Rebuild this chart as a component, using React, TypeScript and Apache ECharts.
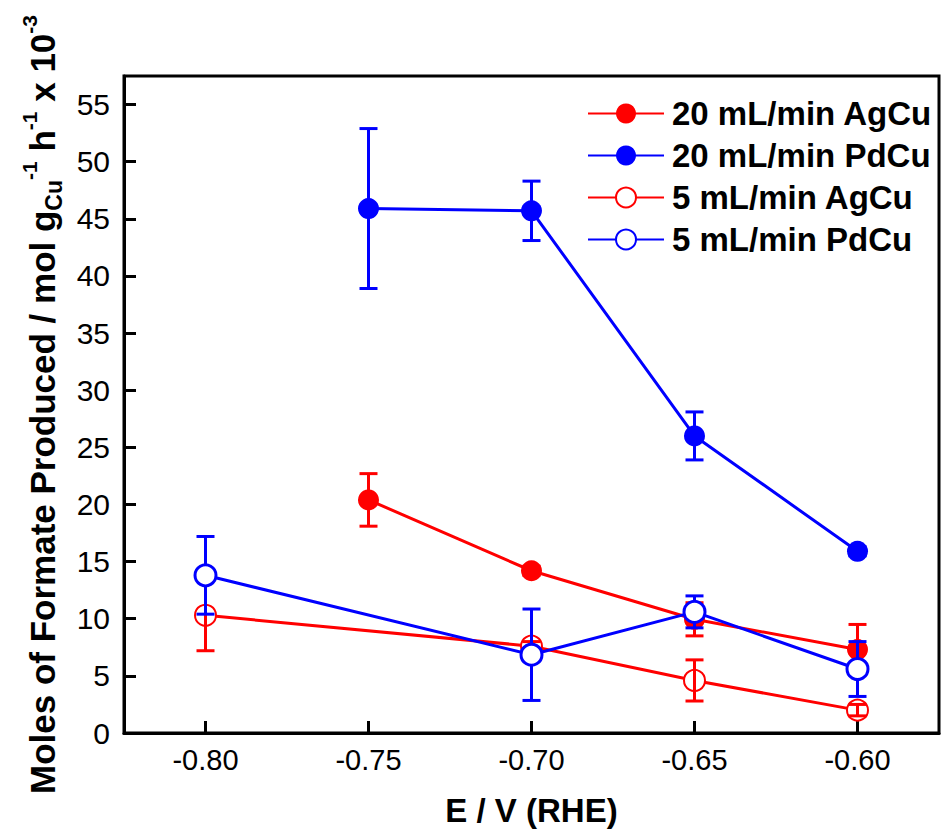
import React, { useEffect, useRef } from "react";
import * as echarts from "echarts";

const xTicks = [-0.8, -0.75, -0.7, -0.65, -0.6];

const agcu20X = [-0.75, -0.7, -0.65, -0.6];
const agcu20Y = [20.4, 14.2, 9.95, 7.3];
const agcu20Err = [2.3, 0.4, 1.45, 2.2];

const pdcu20X = [-0.75, -0.7, -0.65, -0.6];
const pdcu20Y = [45.9, 45.7, 26.0, 15.9];
const pdcu20Err = [7.0, 2.6, 2.1, 0.4];

const agcu5X = [-0.8, -0.7, -0.65, -0.6];
const agcu5Y = [10.3, 7.6, 4.6, 2.0];
const agcu5Err = [3.1, 0.4, 1.8, 0.5];

const pdcu5X = [-0.8, -0.7, -0.65, -0.6];
const pdcu5Y = [13.8, 6.85, 10.6, 5.6];
const pdcu5Err = [3.4, 4.0, 1.4, 2.4];

const names = [
  "20 mL/min AgCu",
  "20 mL/min PdCu",
  "5 mL/min AgCu",
  "5 mL/min PdCu",
];

const RED = "#ff0000";
const BLUE = "#0000ff";
const FONT = "Liberation Sans, Arial, Helvetica, sans-serif";

function pairs(xs: number[], ys: number[]) {
  return xs.map((x, i) => [x, ys[i]]);
}
function errData(xs: number[], ys: number[], es: number[]) {
  return xs.map((x, i) => [x, ys[i], ys[i] - es[i], ys[i] + es[i]]);
}

function errSeries(name: string, xs: number[], ys: number[], es: number[], color: string, z: number) {
  return {
    type: "custom",
    name: name + " err",
    z,
    silent: true,
    encode: { x: 0, y: 1 },
    data: errData(xs, ys, es),
    renderItem: (params: any, api: any) => {
      const x = api.value(0);
      const lo = api.value(2);
      const hi = api.value(3);
      const p1 = api.coord([x, lo]);
      const p2 = api.coord([x, hi]);
      const w = 9;
      const st = { stroke: color, lineWidth: 3 };
      return {
        type: "group",
        children: [
          { type: "line", shape: { x1: p1[0], y1: p1[1], x2: p2[0], y2: p2[1] }, style: st },
          { type: "line", shape: { x1: p1[0] - w, y1: p1[1], x2: p1[0] + w, y2: p1[1] }, style: st },
          { type: "line", shape: { x1: p2[0] - w, y1: p2[1], x2: p2[0] + w, y2: p2[1] }, style: st },
        ],
      };
    },
  };
}

function lineSeries(name: string, xs: number[], ys: number[], color: string, filled: boolean, borderW: number, z: number) {
  return {
    type: "line",
    name,
    z,
    data: pairs(xs, ys),
    symbol: "circle",
    symbolSize: 21,
    lineStyle: { color, width: 3 },
    itemStyle: filled
      ? { color, borderColor: color, borderWidth: 0 }
      : { color: "#ffffff", borderColor: color, borderWidth: borderW },
    emphasis: { disabled: true },
  };
}

export default function App() {
  const ref = useRef<HTMLDivElement>(null);

  useEffect(() => {
    document.body.style.margin = "0";
    if (!ref.current) return;
    const chart = echarts.init(ref.current, undefined, { renderer: "svg" });
    const yName =
      "{t|Moles of Formate Produced / mol g}{sub|Cu}{sup|-1}{t| h}{sup|-1}{t| x 10}{sup|-3}";
    chart.setOption({
      animation: false,
      backgroundColor: "#ffffff",
      textStyle: { fontFamily: FONT },
      grid: {
        left: 124,
        right: 3,
        top: 76,
        bottom: 103,
        show: true,
        borderColor: "#000",
        borderWidth: 3,
        backgroundColor: "transparent",
      },
      legend: {
        data: names,
        orient: "vertical",
        left: 587,
        top: 97,
        itemWidth: 76,
        itemHeight: 25,
        itemGap: 9,
        padding: 0,
        textStyle: {
          fontFamily: FONT,
          fontSize: 33,
          fontWeight: "bold",
          color: "#000",
          lineHeight: 33,
          padding: [0, 0, 0, 3],
        },
        selectedMode: false,
      },
      xAxis: {
        type: "value",
        min: -0.825,
        max: -0.575,
        name: "E / V (RHE)",
        nameLocation: "middle",
        nameGap: 61,
        nameTextStyle: { fontFamily: FONT, fontSize: 33, fontWeight: "bold", color: "#000" },
        axisLine: { lineStyle: { color: "#000", width: 3 } },
        axisTick: {
          inside: true,
          length: 12,
          lineStyle: { color: "#000", width: 3 },
          customValues: xTicks,
        },
        axisLabel: {
          customValues: xTicks,
          formatter: (v: number) => v.toFixed(2),
          fontFamily: FONT,
          fontSize: 29,
          color: "#000",
          margin: 12,
        },
        splitLine: { show: false },
      },
      yAxis: {
        type: "value",
        min: 0,
        max: 57.5,
        interval: 5,
        name: yName,
        nameLocation: "middle",
        nameGap: 59,
        nameTextStyle: {
          rich: {
            t: { fontFamily: FONT, fontSize: 35, fontWeight: "bold", color: "#000", lineHeight: 46 },
            sup: { fontFamily: FONT, fontSize: 21, fontWeight: "bold", color: "#000", verticalAlign: "top", lineHeight: 22 },
            sub: { fontFamily: FONT, fontSize: 23, fontWeight: "bold", color: "#000", verticalAlign: "bottom", lineHeight: 24 },
          },
        },
        axisLine: { show: true, lineStyle: { color: "#000", width: 3 } },
        axisTick: { inside: true, length: 12, lineStyle: { color: "#000", width: 3 } },
        axisLabel: {
          fontFamily: FONT,
          fontSize: 30,
          color: "#000",
          margin: 14,
          showMaxLabel: false,
        },
        splitLine: { show: false },
      },
      series: [
        lineSeries(names[0], agcu20X, agcu20Y, RED, true, 0, 2),
        errSeries(names[0], agcu20X, agcu20Y, agcu20Err, RED, 3),
        lineSeries(names[1], pdcu20X, pdcu20Y, BLUE, true, 0, 4),
        errSeries(names[1], pdcu20X, pdcu20Y, pdcu20Err, BLUE, 5),
        lineSeries(names[2], agcu5X, agcu5Y, RED, false, 2, 6),
        errSeries(names[2], agcu5X, agcu5Y, agcu5Err, RED, 7),
        errSeries(names[3], pdcu5X, pdcu5Y, pdcu5Err, BLUE, 8),
        lineSeries(names[3], pdcu5X, pdcu5Y, BLUE, false, 3, 9),
      ],
    });
    return () => chart.dispose();
  }, []);

  return <div ref={ref} style={{ width: 942, height: 836 }} />;
}
